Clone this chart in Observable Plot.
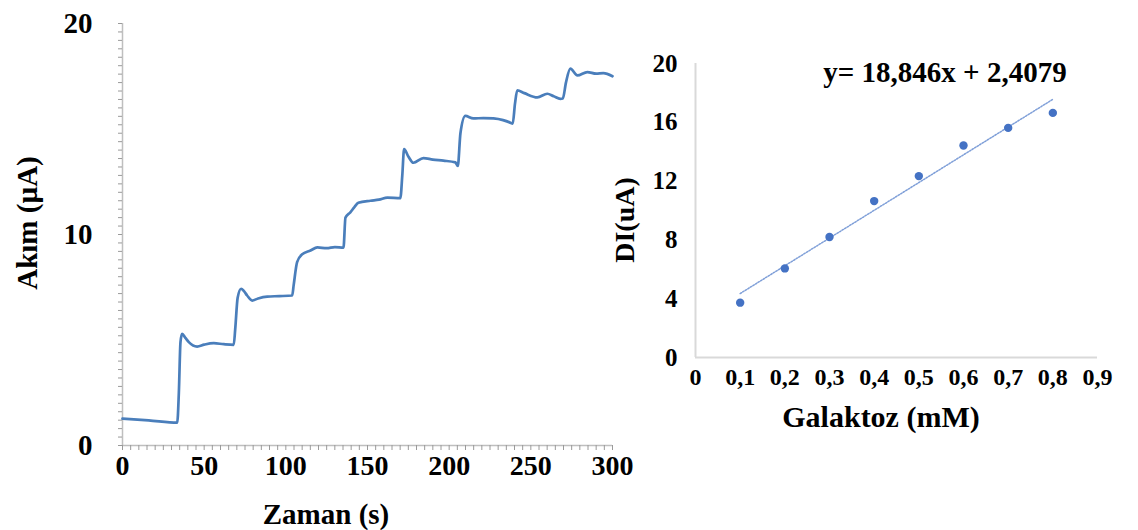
<!DOCTYPE html>
<html><head><meta charset="utf-8">
<script src="https://cdn.jsdelivr.net/npm/d3@7"></script>
<script src="https://cdn.jsdelivr.net/npm/@observablehq/plot@0.6"></script>
<style>
body{margin:0;background:#fff;}
#wrap{position:relative;width:1138px;height:530px;overflow:hidden;font-family:"Liberation Serif","Times New Roman",serif;color:#000;}
#left{position:absolute;top:0;left:0;width:640px;height:530px;}
#right{position:absolute;top:0;left:600px;width:538px;height:530px;}
.lbl{position:absolute;white-space:nowrap;font-weight:bold;line-height:1;transform:translate(-50%,-50%);}
.rot{transform:translate(-50%,-50%) rotate(-90deg);}
</style></head><body>
<div id="wrap">
  <div id="left"></div>
  <div id="right"></div>
  <div class="lbl rot" style="left:27px;top:223px;font-size:29px">Akım (µA)</div>
  <div class="lbl" style="left:326px;top:514px;font-size:29px">Zaman (s)</div>
  <div class="lbl rot" style="left:625px;top:220px;font-size:28px">DI(uA)</div>
  <div class="lbl" style="left:881px;top:417px;font-size:30px">Galaktoz (mM)</div>
  <div class="lbl" id="eq" style="left:945px;top:72px;font-size:29px"></div>
</div>
<script>
// Left panel: amperometric response (time in s, current in µA)
const time = [0, 16, 33.5, 34.5, 35.5, 36.5, 38.5, 40.6, 45.7, 50, 55.9, 62, 68.1,
  69, 70.5, 72.6, 74.5, 76.3, 79.4, 83, 88.6, 96, 103.9,
  104.8, 106.9, 110, 115.1, 119.3, 125, 130, 135.3,
  136.5, 139.5, 142, 144.4, 151.8, 157, 162.2, 170.1,
  171.3, 172.4, 175, 178.1, 184.2, 190, 196.5, 203.8, 205.3,
  206.9, 209.9, 214.8, 221, 227.1, 233, 237.5, 238.9,
  240.3, 241.7, 246, 254, 260.1, 264, 268.1, 269.6,
  271.5, 274.2, 278.5, 284.6, 290, 294.4, 300];
const current = [1.27, 1.19, 1.08, 2.5, 4.9, 5.29, 5.1, 4.9, 4.69, 4.78, 4.85, 4.8, 4.77,
  5.5, 7.0, 7.43, 7.3, 7.11, 6.87, 6.97, 7.06, 7.08, 7.11,
  7.6, 8.69, 9.06, 9.24, 9.39, 9.35, 9.4, 9.38,
  10.8, 11.05, 11.3, 11.5, 11.6, 11.65, 11.75, 11.72,
  12.8, 14.05, 13.7, 13.4, 13.62, 13.55, 13.5, 13.42, 13.25,
  14.8, 15.62, 15.5, 15.52, 15.5, 15.42, 15.3, 15.25,
  16.2, 16.83, 16.7, 16.5, 16.67, 16.55, 16.43, 16.45,
  17.2, 17.86, 17.54, 17.7, 17.62, 17.65, 17.5];
const xTicksLeft = [0, 50, 100, 150, 200, 250, 300];
const yTicksLeft = [0, 10, 20];

// Right panel: calibration (galactose mM vs ΔI µA)
const conc = [0.1, 0.2, 0.3, 0.4, 0.5, 0.6, 0.7, 0.8];
const deltaI = [3.73, 6.06, 8.2, 10.64, 12.34, 14.42, 15.62, 16.64];
const xTicksRight = [0, 0.1, 0.2, 0.3, 0.4, 0.5, 0.6, 0.7, 0.8, 0.9];
const xTickLabelsRight = ["0", "0,1", "0,2", "0,3", "0,4", "0,5", "0,6", "0,7", "0,8", "0,9"];
const yTicksRight = [0, 4, 8, 12, 16, 20];
const equation = "y= 18,846x + 2,4079";

document.getElementById("eq").textContent = equation;

const FONT = '"Liberation Serif","Times New Roman",serif';
const AXIS_GREY = "#bfbfbf";
const MINOR_GREY = "#9a9a9a";

const left = Plot.plot({
  width: 640, height: 530,
  marginLeft: 122, marginRight: 28, marginTop: 23, marginBottom: 85,
  x: {domain: [0, 300]},
  y: {domain: [0, 20]},
  style: {fontFamily: FONT, background: "transparent", overflow: "visible", color: "#000"},
  marks: [
    Plot.ruleX([0], {stroke: AXIS_GREY, strokeWidth: 1.5}),
    Plot.ruleY([0], {stroke: AXIS_GREY, strokeWidth: 1.5}),
    Plot.axisY(d3.range(0, 20.001, 0.4), {anchor: "left", tickSize: 4, stroke: MINOR_GREY, strokeWidth: 1, tickFormat: () => "", label: null}),
    Plot.axisX(d3.range(0, 300.001, 5), {anchor: "bottom", tickSize: 5, stroke: MINOR_GREY, strokeWidth: 1, tickFormat: () => "", label: null}),
    Plot.axisY(yTicksLeft, {anchor: "left", tickSize: 0, tickPadding: 30, fontSize: 29, fontWeight: "bold", label: null}),
    Plot.axisX(xTicksLeft, {anchor: "bottom", tickSize: 0, tickPadding: 10, fontSize: 28, fontWeight: "bold", label: null}),
    Plot.line(time, {x: time, y: current, stroke: "#4a7ebb", strokeWidth: 2.7, curve: "monotone-x"})
  ]
});
document.getElementById("left").append(left);

const right = Plot.plot({
  width: 538, height: 530,
  marginLeft: 95, marginRight: 41, marginTop: 63, marginBottom: 173,
  x: {domain: [0, 0.9]},
  y: {domain: [0, 20]},
  style: {fontFamily: FONT, background: "transparent", overflow: "visible", color: "#000"},
  marks: [
    Plot.ruleX([0], {stroke: "#d9d9d9", strokeWidth: 2}),
    Plot.ruleY([0], {stroke: "#d9d9d9", strokeWidth: 2}),
    Plot.axisY(yTicksRight, {tickSize: 0, tickPadding: 18, fontSize: 25, fontWeight: "bold", label: null}),
    Plot.axisX(xTicksRight, {tickSize: 0, tickPadding: 10, fontSize: 24, fontWeight: "bold", label: null,
      tickFormat: d => xTickLabelsRight[xTicksRight.indexOf(d)]}),
    Plot.linearRegressionY(conc, {x: conc, y: deltaI, ci: 0, stroke: "#7f9fd8",
      strokeWidth: 1.5, strokeDasharray: "1.5,1.5"}),
    Plot.dot(conc, {x: conc, y: deltaI, r: 4.2, fill: "#4472c4", stroke: "none"})
  ]
});
document.getElementById("right").append(right);
</script>
</body></html>
